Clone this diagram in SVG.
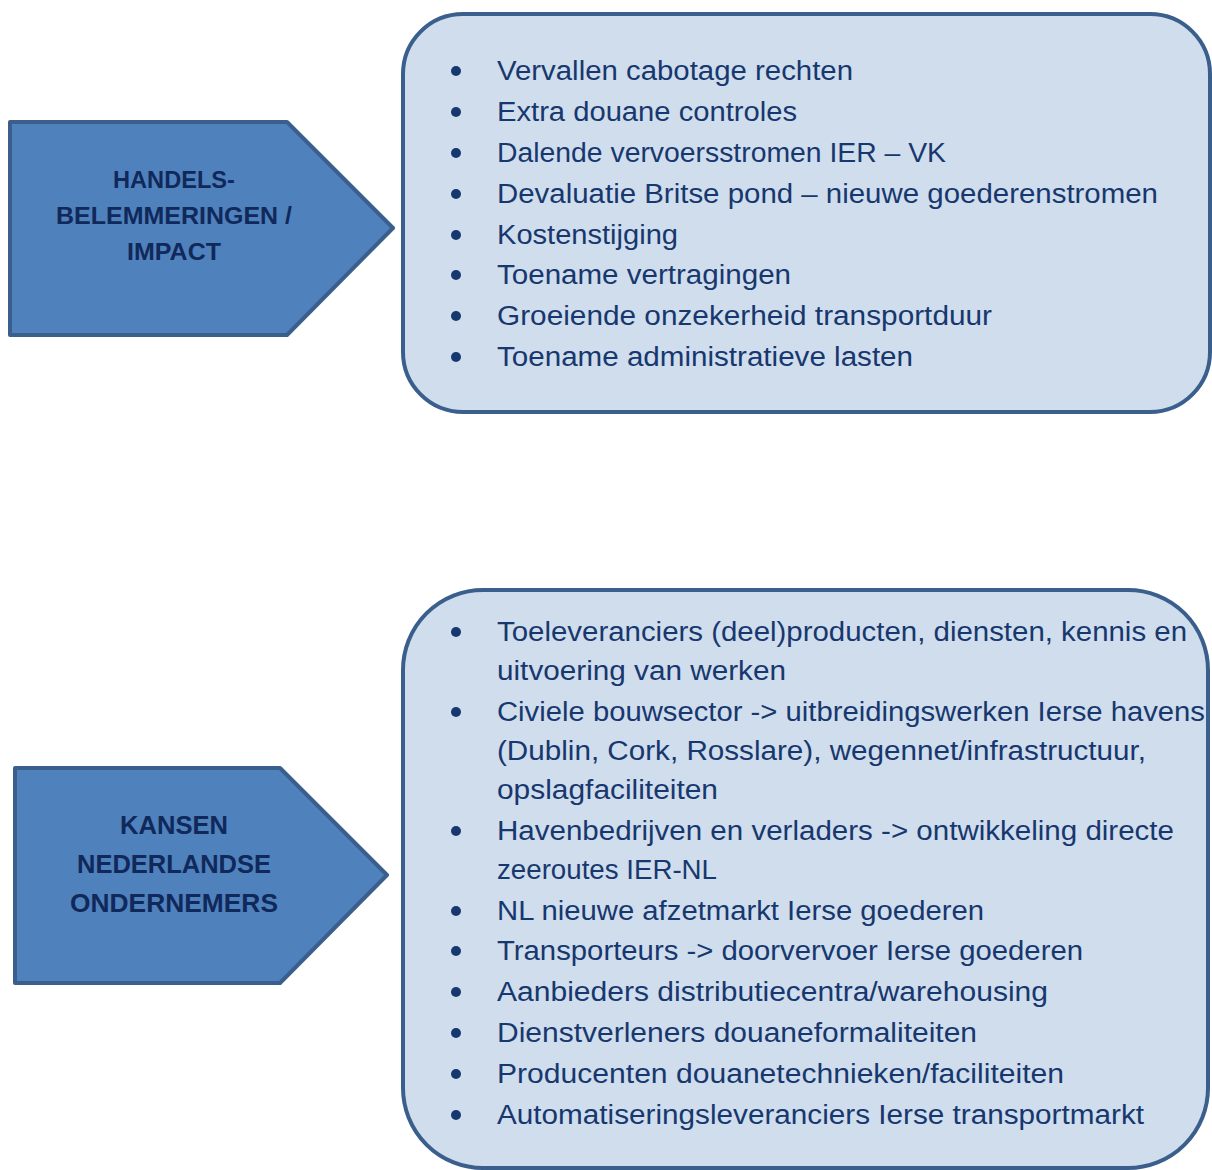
<svg xmlns="http://www.w3.org/2000/svg" width="1212" height="1170" viewBox="0 0 1212 1170">
<style>
.arrow{fill:#4F81BD;stroke:#3A5F8C;stroke-width:4;stroke-linejoin:round}
.box{fill:#D0DDED;stroke:#3A5F8C;stroke-width:4}
.lbl{font-family:"Liberation Sans",Arial,sans-serif;font-weight:bold;fill:#10295A;text-anchor:middle}
.it{font-family:"Liberation Sans",Arial,sans-serif;font-size:27px;fill:#17386E}
.bul{fill:#17386E}
</style>
<rect width="1212" height="1170" fill="#FFFFFF"/>
<g id="connectors"></g>
<g id="arrow1">
<polygon class="arrow" points="10,122 287,122 393,228 287,335 10,335"/>
<text class="lbl" font-size="23" x="174" y="188" textLength="122" lengthAdjust="spacingAndGlyphs">HANDELS-</text>
<text class="lbl" font-size="23" x="174" y="224" textLength="236" lengthAdjust="spacingAndGlyphs">BELEMMERINGEN /</text>
<text class="lbl" font-size="23" x="174" y="260" textLength="94" lengthAdjust="spacingAndGlyphs">IMPACT</text>
</g>
<g id="box1">
<rect class="box" x="403" y="14" width="807" height="398" rx="60" ry="60"/>
<g class="bul">
<circle cx="456" cy="71" r="5"/><circle cx="456" cy="112" r="5"/><circle cx="456" cy="153" r="5"/><circle cx="456" cy="194" r="5"/>
<circle cx="456" cy="235" r="5"/><circle cx="456" cy="275" r="5"/><circle cx="456" cy="316" r="5"/><circle cx="456" cy="357" r="5"/>
</g>
<text class="it" x="497" y="80" textLength="356" lengthAdjust="spacingAndGlyphs">Vervallen cabotage rechten</text>
<text class="it" x="497" y="121" textLength="300" lengthAdjust="spacingAndGlyphs">Extra douane controles</text>
<text class="it" x="497" y="162" textLength="449" lengthAdjust="spacingAndGlyphs">Dalende vervoersstromen IER – VK</text>
<text class="it" x="497" y="203" textLength="661" lengthAdjust="spacingAndGlyphs">Devaluatie Britse pond – nieuwe goederenstromen</text>
<text class="it" x="497" y="244" textLength="181" lengthAdjust="spacingAndGlyphs">Kostenstijging</text>
<text class="it" x="497" y="284" textLength="294" lengthAdjust="spacingAndGlyphs">Toename vertragingen</text>
<text class="it" x="497" y="325" textLength="495" lengthAdjust="spacingAndGlyphs">Groeiende onzekerheid transportduur</text>
<text class="it" x="497" y="366" textLength="416" lengthAdjust="spacingAndGlyphs">Toename administratieve lasten</text>
</g>
<g id="arrow2">
<polygon class="arrow" points="15,768 280,768 387,875 280,983 15,983"/>
<text class="lbl" font-size="26" x="174" y="834" textLength="108" lengthAdjust="spacingAndGlyphs">KANSEN</text>
<text class="lbl" font-size="26" x="174" y="873" textLength="194" lengthAdjust="spacingAndGlyphs">NEDERLANDSE</text>
<text class="lbl" font-size="26" x="174" y="912" textLength="208" lengthAdjust="spacingAndGlyphs">ONDERNEMERS</text>
</g>
<g id="box2">
<rect class="box" x="403" y="590" width="805" height="578" rx="80" ry="80"/>
<g class="bul">
<circle cx="456" cy="632" r="5"/><circle cx="456" cy="712" r="5"/><circle cx="456" cy="831" r="5"/><circle cx="456" cy="911" r="5"/>
<circle cx="456" cy="951" r="5"/><circle cx="456" cy="992" r="5"/><circle cx="456" cy="1033" r="5"/><circle cx="456" cy="1074" r="5"/><circle cx="456" cy="1115" r="5"/>
</g>
<text class="it" x="497" y="641" textLength="690" lengthAdjust="spacingAndGlyphs">Toeleveranciers (deel)producten, diensten, kennis en</text>
<text class="it" x="497" y="680" textLength="289" lengthAdjust="spacingAndGlyphs">uitvoering van werken</text>
<text class="it" x="497" y="721" textLength="708" lengthAdjust="spacingAndGlyphs">Civiele bouwsector -&gt; uitbreidingswerken Ierse havens</text>
<text class="it" x="497" y="760" textLength="649" lengthAdjust="spacingAndGlyphs">(Dublin, Cork, Rosslare), wegennet/infrastructuur,</text>
<text class="it" x="497" y="799" textLength="221" lengthAdjust="spacingAndGlyphs">opslagfaciliteiten</text>
<text class="it" x="497" y="840" textLength="677" lengthAdjust="spacingAndGlyphs">Havenbedrijven en verladers -&gt; ontwikkeling directe</text>
<text class="it" x="497" y="879" textLength="220" lengthAdjust="spacingAndGlyphs">zeeroutes IER-NL</text>
<text class="it" x="497" y="920" textLength="487" lengthAdjust="spacingAndGlyphs">NL nieuwe afzetmarkt Ierse goederen</text>
<text class="it" x="497" y="960" textLength="586" lengthAdjust="spacingAndGlyphs">Transporteurs -&gt; doorvervoer Ierse goederen</text>
<text class="it" x="497" y="1001" textLength="551" lengthAdjust="spacingAndGlyphs">Aanbieders distributiecentra/warehousing</text>
<text class="it" x="497" y="1042" textLength="480" lengthAdjust="spacingAndGlyphs">Dienstverleners douaneformaliteiten</text>
<text class="it" x="497" y="1083" textLength="567" lengthAdjust="spacingAndGlyphs">Producenten douanetechnieken/faciliteiten</text>
<text class="it" x="497" y="1124" textLength="647" lengthAdjust="spacingAndGlyphs">Automatiseringsleveranciers Ierse transportmarkt</text>
</g>
</svg>
